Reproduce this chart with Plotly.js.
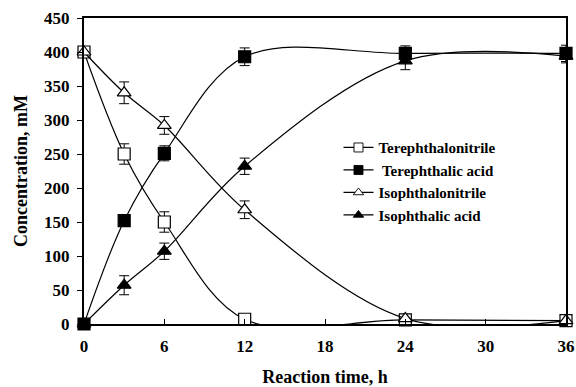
<!DOCTYPE html>
<html>
<head>
<meta charset="utf-8">
<script src="https://cdn.plot.ly/plotly-3.0.1.min.js"></script>
<style>html,body{margin:0;padding:0;background:#fff;}#chart{width:576px;height:387px;}</style>
</head>
<body>
<div id="chart"></div>
<script>
var times = [0, 3, 6, 12, 24, 36];
var seriesNames = ["Terephthalonitrile", " Terephthalic acid", "Isophthalonitrile", "Isophthalic acid"];
var terephthalonitrile = [400, 250, 150, 7, 6, 5];
var terephthalonitrileErrPlus = [0, 15, 15, 3, 0, 0];
var terephthalonitrileErrMinus = [0, 15, 15, 15, 0, 0];
var terephthalicAcid = [0, 152, 251, 393, 398, 398];
var terephthalicAcidErr = [0, 8, 11, 13, 11, 12];
var isophthalonitrile = [400, 340, 292, 168, 8, 5];
var isophthalonitrileErr = [0, 16, 13, 13, 0, 0];
var isophthalicAcid = [0, 57, 107, 232, 387, 394];
var isophthalicAcidErr = [0, 14, 12, 12, 13, 10];
var xTicks = [0, 6, 12, 18, 24, 30, 36];
var yTicks = [0, 50, 100, 150, 200, 250, 300, 350, 400, 450];

var F = "Liberation Serif, Times New Roman, serif";
function errObj(plus, minus) {
  var e = {type: "data", array: plus, visible: true, color: "#000", thickness: 1, width: 5};
  if (minus) { e.symmetric = false; e.arrayminus = minus; }
  return e;
}
function tr(y, name, sym, fill, err) {
  return {
    x: times, y: y, name: name, type: "scatter", mode: "lines+markers",
    cliponaxis: false,
    line: {color: "#000", width: 1.2, shape: "spline", smoothing: 1},
    marker: {symbol: sym, size: 12, color: fill, line: {color: "#000", width: 1.2}},
    error_y: err
  };
}
var data = [
  tr(terephthalonitrile, seriesNames[0], "square", "#fff", errObj(terephthalonitrileErrPlus, terephthalonitrileErrMinus)),
  tr(terephthalicAcid, seriesNames[1], "square", "#000", errObj(terephthalicAcidErr)),
  tr(isophthalonitrile, seriesNames[2], "triangle-up", "#fff", errObj(isophthalonitrileErr)),
  tr(isophthalicAcid, seriesNames[3], "triangle-up", "#000", errObj(isophthalicAcidErr))
];
var layout = {
  width: 576, height: 387,
  margin: {l: 84, r: 10, t: 18, b: 63},
  paper_bgcolor: "#fff", plot_bgcolor: "#fff",
  font: {family: F, color: "#000", size: 16, weight: "bold"},
  showlegend: true,
  legend: {x: 0.528, y: 0.63, xanchor: "left", yanchor: "top", bgcolor: "rgba(0,0,0,0)",
    font: {family: F, size: 15, weight: "bold"}, tracegroupgap: 0, itemwidth: 30},
  xaxis: {
    range: [0, 36], tickvals: xTicks, ticktext: xTicks.map(String),
    ticks: "inside", ticklen: 5, tickwidth: 1, tickcolor: "#000",
    showline: true, linecolor: "#000", linewidth: 2, mirror: true,
    showgrid: false, zeroline: false,
    tickfont: {family: F, size: 17, weight: "bold"},
    ticklabelstandoff: 6,
    title: {text: "Reaction time, h", font: {family: F, size: 18, weight: "bold"}, standoff: 16}
  },
  yaxis: {
    range: [0, 450], tickvals: yTicks, ticktext: yTicks.map(String),
    ticks: "outside", ticklen: 5, tickwidth: 1, tickcolor: "#000",
    showline: true, linecolor: "#000", linewidth: 2, mirror: true,
    showgrid: false, zeroline: false,
    tickfont: {family: F, size: 17, weight: "bold"},
    ticklabelstandoff: 4,
    title: {text: "Concentration, mM", font: {family: F, size: 18, weight: "bold"}, standoff: 12}
  }
};
Plotly.newPlot("chart", data, layout, {displayModeBar: false, staticPlot: true}).then(function(){
  document.querySelectorAll(".legend .legendpoints path.scatterpts").forEach(function(p){
    p.setAttribute("transform", (p.getAttribute("transform")||"") + " scale(0.75)");
  });
});
</script>
</body>
</html>
